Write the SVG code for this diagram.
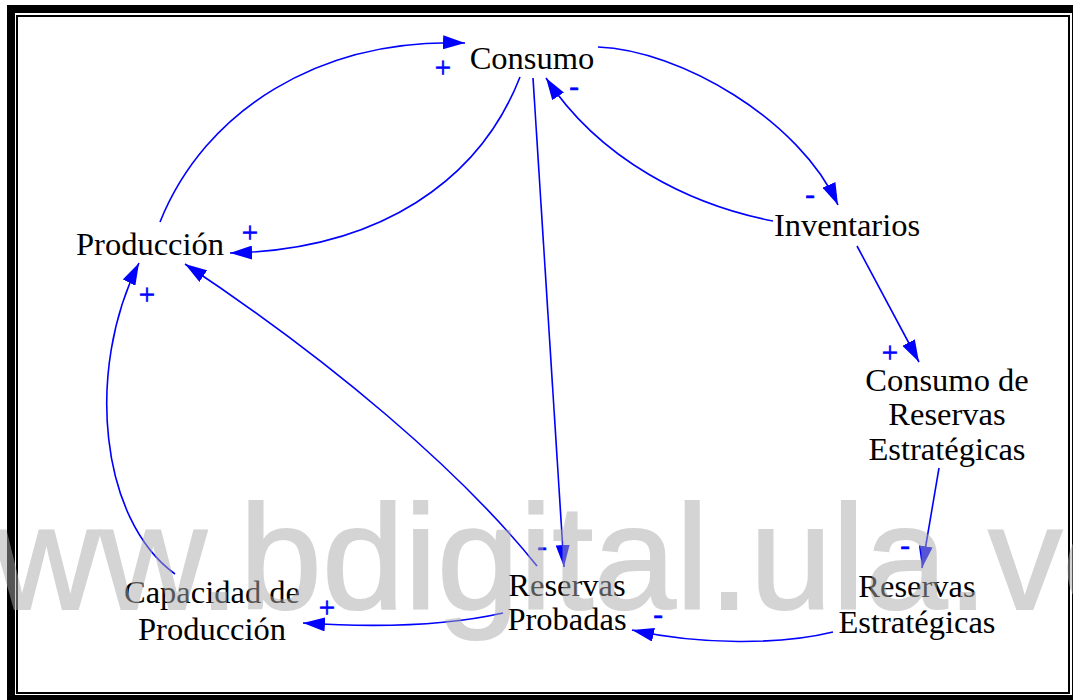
<svg xmlns="http://www.w3.org/2000/svg" width="1073" height="700" viewBox="0 0 1073 700">
<defs>
<style>
.lbl{font-family:"Liberation Serif","Times New Roman",serif;font-size:32.5px;fill:#000;text-anchor:middle}
.pol{font-family:"Liberation Serif","Times New Roman",serif;font-size:29px;fill:#0000ff;stroke:#0000ff;stroke-width:0.6;text-anchor:middle}
.link{fill:none;stroke:#0000ff;stroke-width:1.6;marker-end:url(#ah)}
.wm{font-family:"Liberation Sans",Arial,sans-serif;font-size:148px;fill:#aaaaaa;stroke:#aaaaaa;stroke-width:2}
</style>
<marker id="ah" viewBox="0 0 22 14" refX="22" refY="7" markerWidth="22" markerHeight="14" markerUnits="userSpaceOnUse" orient="auto">
<path d="M0,0 L22,7 L0,14 Z" fill="#0000ff"/>
</marker>
</defs>
<rect x="0" y="0" width="1073" height="700" fill="#fff"/>
<rect x="11" y="9" width="1065" height="690" fill="none" stroke="#000" stroke-width="8"/>
<rect x="17" y="16" width="1052" height="677" fill="none" stroke="#000" stroke-width="2"/>
<g id="connectors">
<path class="link" d="M160,222 C205,110 320,38 465,43"/>
<path class="link" d="M520,77 C480,180 380,250 230,253"/>
<path class="link" d="M533,78 C545,250 555,420 564,567"/>
<path class="link" d="M598,47 C680,50 800,120 838,205"/>
<path class="link" d="M773,221 C690,205 600,160 546,78"/>
<path class="link" d="M857,246 L919,362"/>
<path class="link" d="M939,468 L922,568"/>
<path class="link" d="M833,632 C780,645 700,645 632,630"/>
<path class="link" d="M503,613 C450,625 380,628 303,623"/>
<path class="link" d="M537,566 C460,470 330,360 185,264"/>
<path class="link" d="M175,574 C100,520 85,370 139,263"/>
</g>
<g id="polarities">
<text class="pol" x="443" y="77">+</text>
<text class="pol" x="574" y="96">-</text>
<text class="pol" x="250" y="242">+</text>
<text class="pol" x="147" y="304">+</text>
<text class="pol" x="810" y="204">-</text>
<text class="pol" x="890" y="362">+</text>
<text class="pol" x="905" y="555">-</text>
<text class="pol" x="542" y="556">-</text>
<text class="pol" x="327" y="617">+</text>
<text class="pol" x="658" y="624">-</text>
</g>
<g id="consumo"><text class="lbl" x="532" y="69">Consumo</text></g>
<g id="produccion"><text class="lbl" x="150" y="255">Producción</text></g>
<g id="inventarios"><text class="lbl" x="847" y="236">Inventarios</text></g>
<g id="consumo-reservas-estrategicas"><text class="lbl" x="947" y="391">Consumo de</text><text class="lbl" x="947" y="425">Reservas</text><text class="lbl" x="947" y="460">Estratégicas</text></g>
<g id="reservas-estrategicas"><text class="lbl" x="917" y="597">Reservas</text><text class="lbl" x="917" y="633">Estratégicas</text></g>
<g id="reservas-probadas"><text class="lbl" x="567" y="596">Reservas</text><text class="lbl" x="567" y="630">Probadas</text></g>
<g id="capacidad-produccion"><text class="lbl" x="212" y="603">Capacidad de</text><text class="lbl" x="212" y="640">Producción</text></g>
<g id="watermark" opacity="0.5"><text class="wm" x="-114" y="609">www.bdigital.ula.ve</text></g>
</svg>
